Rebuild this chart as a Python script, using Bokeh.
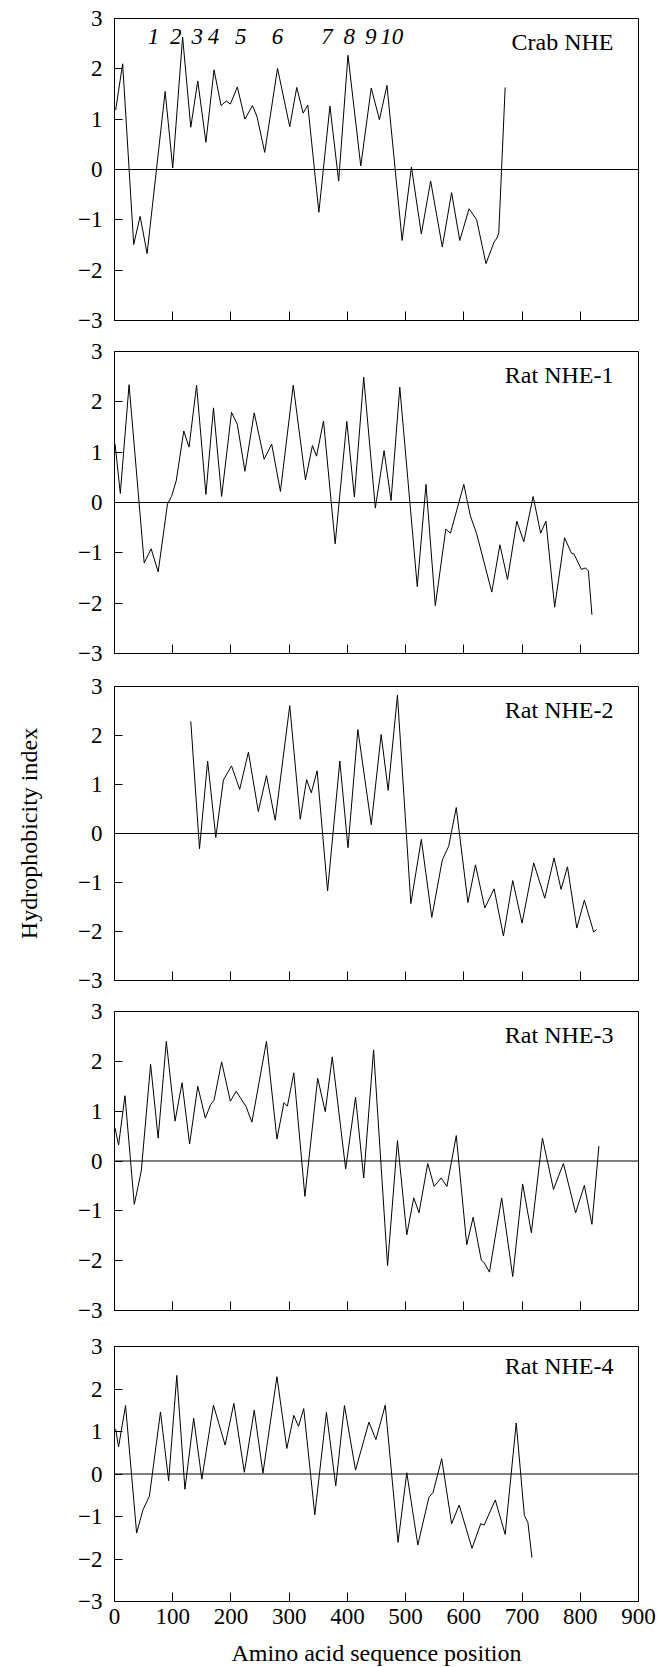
from bokeh.plotting import figure
from bokeh.layouts import column
from bokeh.models import FixedTicker, Span, Label
from bokeh.embed import file_html
from bokeh.resources import INLINE

# ---------------- data ----------------
panel_names = ["Crab NHE", "Rat NHE-1", "Rat NHE-2", "Rat NHE-3", "Rat NHE-4"]

crab_x = [2, 14, 33, 44, 56, 87, 100, 117, 131, 143, 157, 171, 183, 192, 199, 211, 224, 237, 245, 258,
          280, 301, 313, 324, 332, 351, 370, 385, 401, 423, 441, 455, 468, 494, 510, 527, 543, 563, 579,
          593, 609, 622, 638, 652, 657, 660, 671]
crab_y = [1.18, 2.10, -1.49, -0.93, -1.67, 1.55, 0.03, 2.63, 0.84, 1.76, 0.54, 1.98, 1.27, 1.36, 1.30, 1.64,
          1.00, 1.27, 1.04, 0.34, 2.01, 0.85, 1.63, 1.12, 1.28, -0.85, 1.26, -0.23, 2.27, 0.07, 1.62, 0.99,
          1.67, -1.41, 0.05, -1.28, -0.23, -1.54, -0.46, -1.41, -0.78, -1.00, -1.87, -1.44, -1.36, -1.26, 1.63]

nhe1_x = [1, 10, 25, 51, 63, 75, 91, 98, 106, 119, 128, 141, 157, 170, 184, 201, 211, 224, 240, 257, 270,
          285, 307, 328, 340, 347, 359, 379, 399, 412, 428, 448, 463, 475, 490, 520, 535, 551, 569, 577,
          600, 611, 622, 648, 662, 675, 691, 703, 719, 732, 741, 756, 773, 785, 789, 802, 809, 814, 820]
nhe1_y = [1.16, 0.18, 2.34, -1.20, -0.92, -1.38, -0.03, 0.12, 0.43, 1.42, 1.10, 2.33, 0.16, 1.88, 0.12, 1.79,
          1.55, 0.62, 1.78, 0.86, 1.16, 0.22, 2.33, 0.45, 1.13, 0.92, 1.62, -0.82, 1.61, 0.11, 2.49, -0.11,
          1.03, 0.04, 2.29, -1.67, 0.36, -2.05, -0.53, -0.61, 0.36, -0.26, -0.62, -1.78, -0.84, -1.53, -0.37,
          -0.78, 0.12, -0.61, -0.37, -2.08, -0.70, -1.01, -1.02, -1.33, -1.30, -1.36, -2.23]

nhe2_x = [131, 146, 160, 174, 187, 201, 215, 230, 247, 261, 276, 301, 319, 330, 338, 348, 366, 387, 401,
          418, 441, 458, 470, 486, 509, 527, 545, 563, 574, 587, 607, 620, 636, 652, 668, 684, 700, 720,
          739, 755, 767, 778, 794, 807, 823, 828]
nhe2_y = [2.29, -0.31, 1.48, -0.08, 1.09, 1.38, 0.90, 1.66, 0.45, 1.18, 0.27, 2.61, 0.29, 1.10, 0.83, 1.28,
          -1.17, 1.48, -0.29, 2.12, 0.18, 2.02, 0.88, 2.82, -1.43, -0.12, -1.71, -0.54, -0.26, 0.53, -1.41,
          -0.64, -1.52, -1.13, -2.09, -0.96, -1.83, -0.60, -1.32, -0.50, -1.14, -0.68, -1.93, -1.36, -2.01,
          -1.96]

nhe3_x = [1, 7, 18, 34, 46, 62, 75, 89, 104, 116, 129, 143, 156, 165, 171, 184, 199, 209, 226, 236, 261,
          279, 291, 297, 308, 327, 349, 362, 374, 397, 414, 428, 445, 469, 486, 502, 514, 523, 538, 549,
          561, 571, 587, 605, 616, 630, 635, 644, 665, 684, 701, 716, 735, 754, 771, 792, 807, 820, 832]
nhe3_y = [0.66, 0.32, 1.31, -0.87, -0.20, 1.94, 0.46, 2.40, 0.80, 1.57, 0.34, 1.50, 0.86, 1.13, 1.22, 1.99,
          1.20, 1.40, 1.09, 0.78, 2.40, 0.44, 1.17, 1.10, 1.77, -0.71, 1.66, 0.99, 2.09, -0.16, 1.28, -0.34,
          2.23, -2.10, 0.41, -1.48, -0.74, -1.04, -0.05, -0.51, -0.34, -0.51, 0.51, -1.68, -1.13, -1.99,
          -2.04, -2.23, -0.74, -2.32, -0.46, -1.44, 0.46, -0.57, -0.05, -1.04, -0.49, -1.27, 0.30]

nhe4_x = [2, 7, 19, 38, 49, 60, 79, 93, 107, 121, 136, 150, 170, 190, 205, 223, 240, 255, 279, 296, 308,
          316, 325, 344, 364, 380, 395, 414, 437, 449, 465, 487, 502, 521, 540, 547, 562, 579, 592, 614,
          629, 635, 654, 671, 690, 704, 710, 717]
nhe4_y = [1.06, 0.64, 1.61, -1.39, -0.84, -0.52, 1.46, -0.16, 2.32, -0.36, 1.31, -0.12, 1.62, 0.68, 1.66,
          0.04, 1.50, 0.02, 2.29, 0.60, 1.38, 1.12, 1.54, -0.96, 1.45, -0.28, 1.61, 0.09, 1.22, 0.81, 1.62,
          -1.61, 0.03, -1.67, -0.55, -0.44, 0.36, -1.17, -0.73, -1.75, -1.17, -1.20, -0.61, -1.42, 1.20,
          -0.98, -1.14, -1.97]

helix_labels = ["1", "2", "3", "4", "5", "6", "7", "8", "9", "10"]
helix_x = [67, 105, 142, 170, 217, 280, 365, 403, 440, 476]

x_ticks = [0, 100, 200, 300, 400, 500, 600, 700, 800, 900]
x_tick_labels = ["0", "100", "200", "300", "400", "500", "600", "700", "800", "900"]
y_ticks = [-3, -2, -1, 0, 1, 2, 3]
y_tick_labels = ["\u22123", "\u22122", "\u22121", "0", "1", "2", "3"]

y_title = "Hydrophobicity index"
x_title = "Amino acid sequence position"

series = [(crab_x, crab_y), (nhe1_x, nhe1_y), (nhe2_x, nhe2_y), (nhe3_x, nhe3_y), (nhe4_x, nhe4_y)]

# ---------------- layout ----------------
FONT = "Liberation Serif"
frame_heights = [302, 302, 294, 299, 255]
borders_top = [18, 16, 17, 16, 18]
borders_bottom = [15, 16, 15, 18, 66]

figs = []
for i, (xs, ys) in enumerate(series):
    last = i == len(series) - 1
    p = figure(frame_width=524, frame_height=frame_heights[i],
               x_range=(0, 900), y_range=(-3, 3),
               output_backend="svg", toolbar_location=None,
               min_border_left=114, min_border_right=19,
               min_border_top=borders_top[i], min_border_bottom=borders_bottom[i],
               background_fill_color="white", border_fill_color="white")
    p.outline_line_color = "black"
    p.outline_line_width = 1
    p.outline_line_alpha = 1
    p.grid.visible = False

    for ax in (p.xaxis[0], p.yaxis[0]):
        ax.axis_line_color = "black"
        ax.major_tick_line_color = "black"
        ax.minor_tick_line_color = None
        ax.major_tick_out = 0
        ax.major_label_text_font = FONT
        ax.major_label_text_font_size = "23px"
        ax.major_label_text_color = "black"
        ax.axis_label_text_font = FONT
        ax.axis_label_text_font_style = "normal"
        ax.axis_label_text_color = "black"

    p.xaxis.ticker = FixedTicker(ticks=x_ticks)
    p.xaxis.major_label_overrides = dict(zip(x_ticks, x_tick_labels))
    p.xaxis.major_tick_in = 9
    p.yaxis.ticker = FixedTicker(ticks=y_ticks)
    p.yaxis.major_label_overrides = dict(zip(y_ticks, y_tick_labels))
    p.yaxis.major_tick_in = 8
    p.yaxis.major_label_standoff = 12

    if last:
        p.xaxis.major_label_standoff = 7
        p.xaxis.axis_label = x_title
        p.xaxis.axis_label_text_font_size = "24px"
        p.xaxis.axis_label_standoff = 13
    else:
        # ticks only, no labels on the upper panels
        p.xaxis.major_label_text_color = None
        p.xaxis.major_label_standoff = 0

    if i == 2:
        p.yaxis.axis_label = y_title
        p.yaxis.axis_label_text_font_size = "24px"
        p.yaxis.axis_label_standoff = 33

    p.add_layout(Span(location=0, dimension="width", line_color="black", line_width=1))
    p.line(xs, ys, line_color="black", line_width=1, line_join="round")

    p.add_layout(Label(x=857, y=2.53, text=panel_names[i], text_align="right",
                       text_baseline="middle", text_font=FONT, text_font_size="24px",
                       text_color="black"))
    if i == 0:
        for hx, ht in zip(helix_x, helix_labels):
            p.add_layout(Label(x=hx, y=2.64, text=ht, text_align="center",
                               text_baseline="middle", text_font=FONT,
                               text_font_style="italic", text_font_size="23px",
                               text_color="black"))
    figs.append(p)

layout = column(*figs, spacing=0)
open("out.html", "w").write(file_html(layout, INLINE))
